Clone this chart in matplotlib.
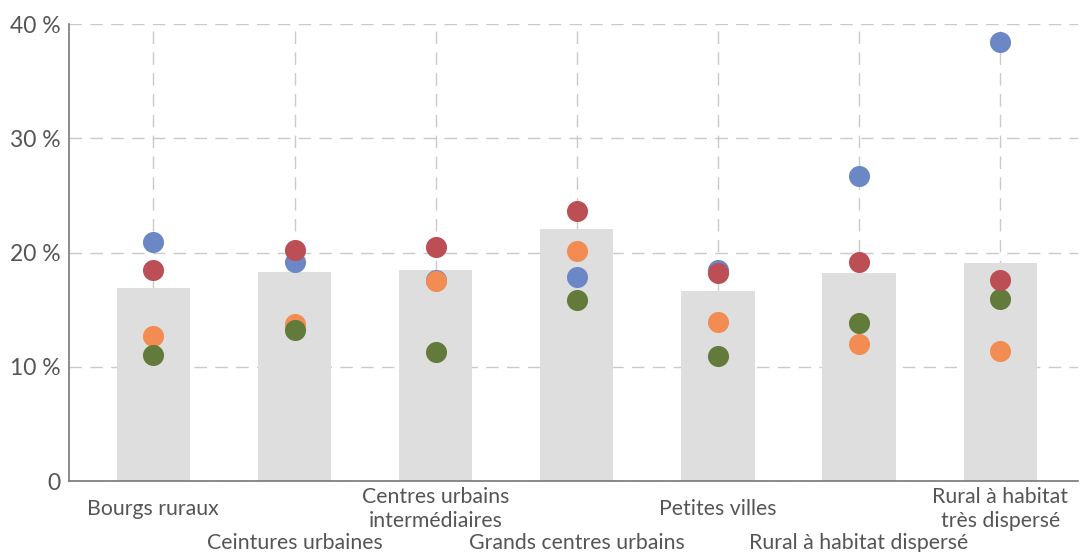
import matplotlib
matplotlib.use("Agg")
import matplotlib.pyplot as plt
import matplotlib.transforms as mtransforms
import numpy as np

categories = ["Bourgs ruraux", "Ceintures urbaines", "Centres urbains\nintermédiaires",
              "Grands centres urbains", "Petites villes", "Rural à habitat dispersé",
              "Rural à habitat\ntrès dispersé"]
bar_values = [16.9, 18.3, 18.5, 22.1, 16.6, 18.2, 19.1]
blue_values = [20.9, 19.2, 17.6, 17.9, 18.5, 26.7, 38.4]
orange_values = [12.7, 13.7, 17.5, 20.1, 13.9, 12.0, 11.4]
green_values = [11.0, 13.2, 11.3, 15.8, 10.9, 13.8, 15.9]
red_values = [18.5, 20.2, 20.5, 23.6, 18.2, 19.2, 17.6]
y_ticks = [0, 10, 20, 30, 40]
y_tick_labels = ["0", "10 %", "20 %", "30 %", "40 %"]

plt.rcParams['font.family'] = ['Lato', 'DejaVu Sans']
text_color = "#555555"

fig = plt.figure(figsize=(10.8, 5.52), dpi=100)
ax = fig.add_axes([0.0636, 0.1286, 0.9344, 0.8279])
x = np.arange(len(categories))

ax.bar(x, bar_values, width=0.52, color="#DEDEDE", zorder=1)
series = [(blue_values, "#6B87C6"), (orange_values, "#F28C52"),
          (green_values, "#627A3A"), (red_values, "#BC4F55")]
for vals, col in series:
    ax.scatter(x, vals, s=230, color=col, zorder=3, linewidths=0)

ax.set_xlim(-0.6, 6.55)
ax.set_ylim(0, 40)
ax.set_yticks(y_ticks)
ax.set_yticklabels(y_tick_labels, fontsize=16.5, color=text_color)
ax.set_xticks(x)
ax.set_xticklabels([])
ax.tick_params(axis='both', length=0)
ax.tick_params(axis='y', pad=6)
ax.grid(True, color="#CACACA", linestyle=(0, (9, 6)), linewidth=1, zorder=0)
ax.set_axisbelow(True)
for s in ["top", "right"]:
    ax.spines[s].set_visible(False)
for s in ["left", "bottom"]:
    ax.spines[s].set_color("#777777")
    ax.spines[s].set_linewidth(1.2)

trans = mtransforms.blended_transform_factory(ax.transData, fig.transFigure)
for i, lab in enumerate(categories):
    ypix = 509 if i % 2 == 0 else 543
    ax.text(i, 1 - ypix / 552, lab, transform=trans, ha="center", va="center",
            fontsize=15.3, color=text_color, linespacing=1.2)

fig.savefig("out.png", dpi=100)
